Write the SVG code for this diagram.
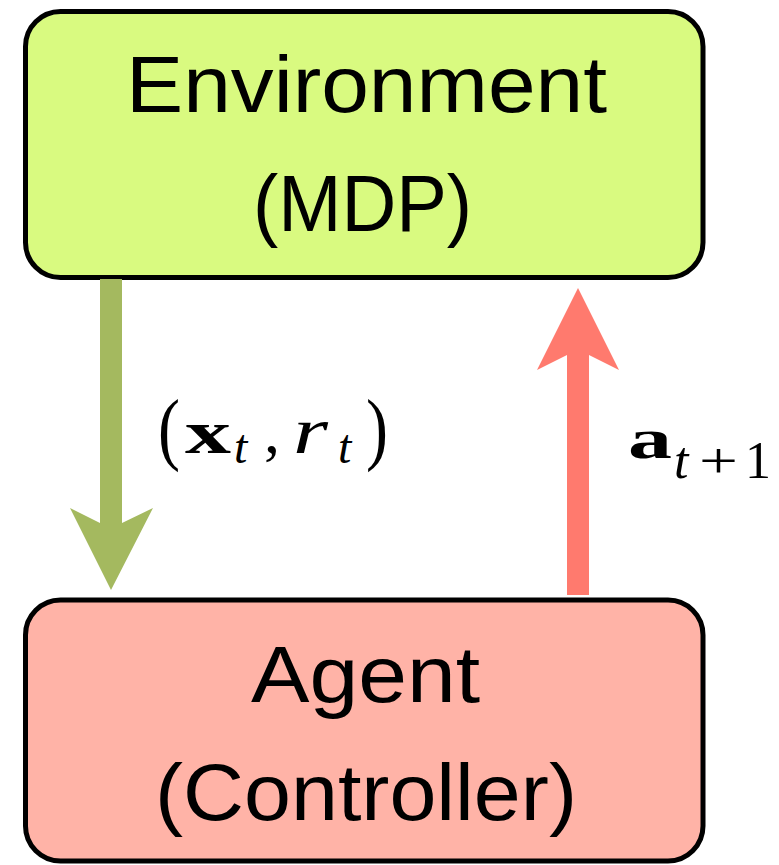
<svg xmlns="http://www.w3.org/2000/svg" width="779" height="865" viewBox="0 0 779 865">
  <style>
    .box { stroke: #000; stroke-width: 5; }
    .env { fill: #d9fa80; }
    .agent { fill: #ffb3a7; }
    .label { font-family: "Liberation Sans", Arial, sans-serif; font-size: 80px; fill: #000; }
    .math { font-family: "Liberation Serif", "Times New Roman", serif; fill: #000; }
    .bf { font-weight: bold; }
    .it { font-style: italic; }
  </style>
  <rect width="779" height="865" fill="#fff"/>

  <g id="environment">
    <rect class="box env" x="25.5" y="11.5" width="677.5" height="266" rx="35" ry="35"/>
    <text class="label" x="126" y="112" textLength="481" lengthAdjust="spacingAndGlyphs">Environment</text>
    <text class="label" x="253" y="231" textLength="219" lengthAdjust="spacingAndGlyphs">(MDP)</text>
  </g>

  <g id="agent">
    <rect class="box agent" x="25.5" y="600" width="677.5" height="261" rx="35" ry="35"/>
    <text class="label" x="251" y="702" textLength="229" lengthAdjust="spacingAndGlyphs">Agent</text>
    <text class="label" x="155" y="820" textLength="422" lengthAdjust="spacingAndGlyphs">(Controller)</text>
  </g>

  <g id="connectors">
    <!-- observation and reward: environment down to agent -->
    <polygon fill="#a4b95f" points="100,279 122,279 122,523 153,508 111,590 70,508 100,523"/>
    <!-- action: agent up to environment -->
    <polygon fill="#ff7a6e" points="567,595 589,595 589,355 619,370 578,288 537,370 567,355"/>
  </g>

  <g id="observation-label" class="math">
    <text x="158" y="455" font-size="80" textLength="22" lengthAdjust="spacingAndGlyphs">(</text>
    <text class="bf" x="185" y="453" font-size="62" textLength="46" lengthAdjust="spacingAndGlyphs">x</text>
    <text class="it" x="234" y="463" font-size="48">t</text>
    <text x="264" y="453" font-size="64">,</text>
    <text class="it" x="293" y="453" font-size="66" textLength="35" lengthAdjust="spacingAndGlyphs">r</text>
    <text class="it" x="338" y="463" font-size="48">t</text>
    <text x="366" y="455" font-size="80" textLength="22" lengthAdjust="spacingAndGlyphs">)</text>
  </g>

  <g id="action-label" class="math">
    <text class="bf" x="628" y="458" font-size="58" textLength="44" lengthAdjust="spacingAndGlyphs">a</text>
    <text class="it" x="674" y="478" font-size="52">t</text>
    <text x="699" y="478" font-size="50" textLength="39" lengthAdjust="spacingAndGlyphs">+</text>
    <text x="745" y="478" font-size="52">1</text>
  </g>
</svg>
